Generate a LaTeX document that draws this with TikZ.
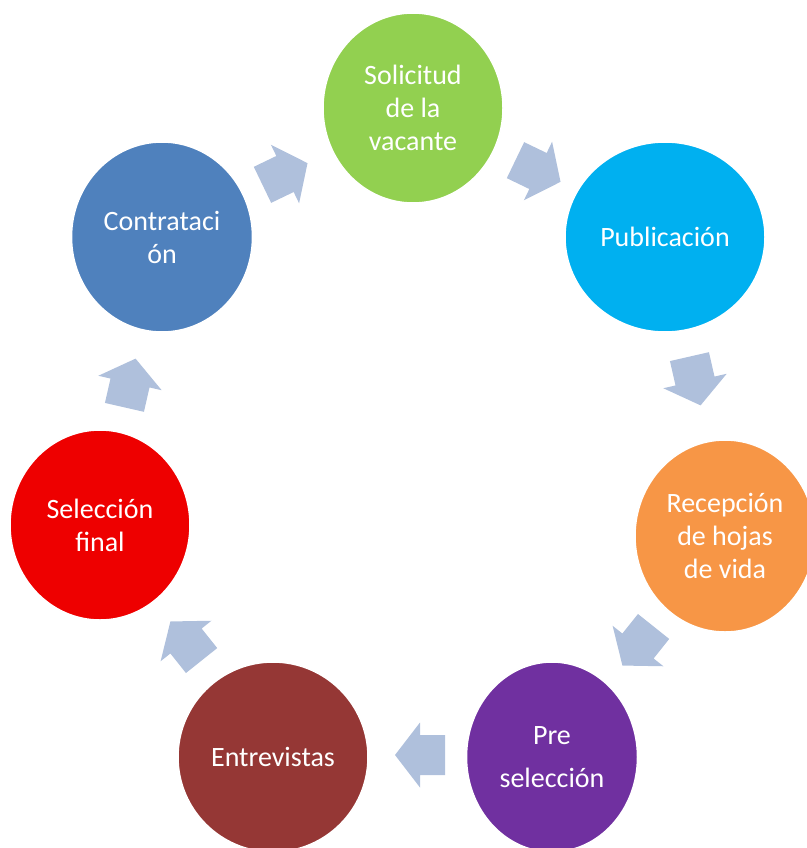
\documentclass[tikz,border=0pt]{standalone}
\usepackage{fontspec}
\setmainfont{Carlito}
\usetikzlibrary{shapes.geometric}
\definecolor{cgreen}{HTML}{92D050}
\definecolor{cblue}{HTML}{00B0F0}
\definecolor{corange}{HTML}{F79646}
\definecolor{cpurple}{HTML}{7030A0}
\definecolor{cbrown}{HTML}{953735}
\definecolor{cred}{HTML}{EE0000}
\definecolor{csteel}{HTML}{4F81BD}
\definecolor{carrow}{HTML}{AFC0DC}
\tikzset{
  stage/.style={ellipse, fill=#1, draw=white, line width=1.5pt, inner sep=0pt,
    text=white, align=center, font=\fontsize{28}{33}\selectfont},
  cyclearrow/.pic={\fill[carrow] (-25,-20) -- (0,-20) -- (0,-32.5) -- (25,0) -- (0,32.5) -- (0,20) -- (-25,20) -- cycle;}
}
\begin{document}
\begin{tikzpicture}[x=1pt,y=-1pt]
\useasboundingbox (0,0) rectangle (806,848);
\node[stage=cgreen, minimum width=180pt, minimum height=190pt] (sol) at (413,108) {Solicitud\\de la\\vacante};
\node[stage=cblue, minimum width=200pt, minimum height=190pt] (pub) at (665,237) {Publicación};
\node[stage=corange, minimum width=180pt, minimum height=192pt] (rec) at (725,536) {Recepción\\de hojas\\de vida};
\node[stage=cpurple, minimum width=171pt, minimum height=190pt] (pre) at (552,757) {Pre\\[10pt]selección};
\node[stage=cbrown, minimum width=190pt, minimum height=190pt] (ent) at (273,757) {Entrevistas};
\node[stage=cred, minimum width=180pt, minimum height=190pt] (sel) at (100,525) {Selección\\final};
\node[stage=csteel, minimum width=181pt, minimum height=190pt] (con) at (162,237) {Contrataci\\ón};
\coordinate (a1) at (285,174);
\coordinate (a2) at (538,171);
\coordinate (a3) at (695,381);
\coordinate (a4) at (638,646);
\coordinate (a5) at (420,755);
\coordinate (a6) at (186,641);
\coordinate (a7) at (130,383);
\pic[rotate=25.71] at (a1) {cyclearrow};
\pic[rotate=-25.71] at (a2) {cyclearrow};
\pic[rotate=-77.14] at (a3) {cyclearrow};
\pic[rotate=-128.57] at (a4) {cyclearrow};
\pic[rotate=180] at (a5) {cyclearrow};
\pic[rotate=128.57] at (a6) {cyclearrow};
\pic[rotate=77.14] at (a7) {cyclearrow};
\end{tikzpicture}
\end{document}
